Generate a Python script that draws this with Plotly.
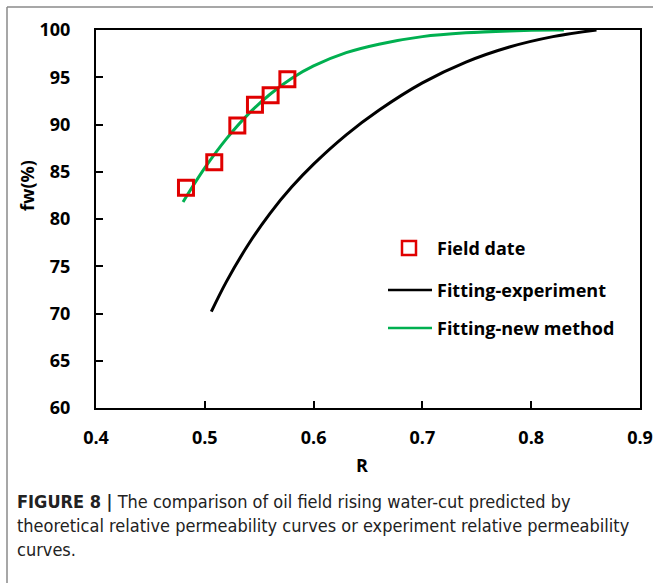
import plotly.graph_objects as go

# Field observations
field_r = [0.4827, 0.5087, 0.5299, 0.5461, 0.5605, 0.5759]
field_fw = [83.3, 86.0, 89.9, 92.1, 93.1, 94.8]

# Fitted curve from experimental relative permeability
exp_r = [0.506, 0.52, 0.54, 0.56, 0.58, 0.60, 0.63, 0.66, 0.70, 0.74, 0.78, 0.82, 0.86]
exp_fw = [70.2, 73.4, 77.3, 80.6, 83.4, 85.8, 88.9, 91.5, 94.4, 96.6, 98.2, 99.3, 100.0]

# Fitted curve from the new method
new_r = [0.480, 0.50, 0.52, 0.54, 0.56, 0.58, 0.60, 0.63, 0.66, 0.70, 0.74, 0.78, 0.82, 0.83]
new_fw = [81.8, 85.4, 88.5, 91.1, 93.2, 94.9, 96.2, 97.6, 98.5, 99.3, 99.7, 99.9, 100.0, 100.0]

x_ticks = [0.4, 0.5, 0.6, 0.7, 0.8, 0.9]
y_ticks = [60, 65, 70, 75, 80, 85, 90, 95, 100]

legend_labels = ["Field date", "Fitting-experiment", "Fitting-new method"]
caption = [
    "<b>FIGURE 8 |</b> The comparison of oil field rising water-cut predicted by",
    "theoretical relative permeability curves or experiment relative permeability",
    "curves.",
]

W, H = 653, 583
L, R, T, B = 96, 640, 30, 408
GREEN = "#00B050"
RED = "#E00000"
FONT = "Open Sans"


def px(x):
    return (x - L) / (R - L)


def py(y):
    return (B - y) / (B - T)


fig = go.Figure()
fig.add_trace(go.Scatter(x=exp_r, y=exp_fw, mode="lines", line=dict(color="black", width=3, shape="spline"),
                         showlegend=False))
fig.add_trace(go.Scatter(x=new_r, y=new_fw, mode="lines", line=dict(color=GREEN, width=3, shape="spline"),
                         showlegend=False))
fig.add_trace(go.Scatter(x=field_r, y=field_fw, mode="markers",
                         marker=dict(symbol="square-open", size=15, color=RED, line=dict(width=3, color=RED)),
                         showlegend=False))

shapes = []
annotations = []

# outer figure frame (top and left edges)
shapes.append(dict(type="line", xref="paper", yref="paper", x0=px(7), x1=px(W), y0=py(7), y1=py(7),
                   line=dict(color="#8a8a8a", width=1.5)))
shapes.append(dict(type="line", xref="paper", yref="paper", x0=px(7), x1=px(7), y0=py(7), y1=py(H),
                   line=dict(color="#8a8a8a", width=1.5)))

# legend
leg_y = [248, 290, 328]
shapes.append(dict(type="rect", xref="paper", yref="paper", x0=px(402), x1=px(416), y0=py(241), y1=py(255),
                   line=dict(color=RED, width=2.5)))
shapes.append(dict(type="line", xref="paper", yref="paper", x0=px(388), x1=px(432), y0=py(leg_y[1]),
                   y1=py(leg_y[1]), line=dict(color="black", width=2.5)))
shapes.append(dict(type="line", xref="paper", yref="paper", x0=px(388), x1=px(432), y0=py(leg_y[2]),
                   y1=py(leg_y[2]), line=dict(color=GREEN, width=2.5)))
for lab, yy in zip(legend_labels, leg_y):
    annotations.append(dict(text="<b>%s</b>" % lab, xref="paper", yref="paper", x=px(435), y=py(yy),
                            xanchor="left", yanchor="middle", showarrow=False,
                            font=dict(family=FONT, size=18, color="black")))

# axis titles
annotations.append(dict(text="<b>fw(%)</b>", xref="paper", yref="paper", x=px(27), y=py(186), textangle=-90,
                        xanchor="center", yanchor="middle", showarrow=False,
                        font=dict(family=FONT, size=18, color="black")))
annotations.append(dict(text="<b>R</b>", xref="paper", yref="paper", x=px(362), y=py(465),
                        xanchor="center", yanchor="middle", showarrow=False,
                        font=dict(family=FONT, size=18, color="black")))

# caption
for i, line in enumerate(caption):
    annotations.append(dict(text=line, xref="paper", yref="paper", x=px(15), y=py(501 + 24 * i),
                            xanchor="left", yanchor="middle", showarrow=False, align="left",
                            font=dict(family="DejaVu Sans Condensed, sans-serif",
                                      size=18, color="#222222")))

fig.update_layout(
    width=W, height=H,
    margin=dict(l=L, r=W - R, t=T, b=H - B, autoexpand=False),
    paper_bgcolor="white", plot_bgcolor="white",
    shapes=shapes, annotations=annotations,
    showlegend=False,
    font=dict(family=FONT, color="black"),
)
fig.update_xaxes(range=[0.4, 0.9], tickvals=x_ticks, ticktext=["%.1f" % v for v in x_ticks],
                 showgrid=False, zeroline=False, showline=True, linecolor="black", linewidth=2, mirror=True,
                 ticks="inside", ticklen=7, tickwidth=1.5, tickcolor="black", automargin=False,
                 tickfont=dict(family=FONT, size=18, color="black", weight="bold"), ticklabelstandoff=12)
fig.update_yaxes(range=[60, 100], tickvals=y_ticks, automargin=False,
                 showgrid=False, zeroline=False, showline=True, linecolor="black", linewidth=2, mirror=True,
                 ticks="inside", ticklen=7, tickwidth=1.5, tickcolor="black",
                 tickfont=dict(family=FONT, size=18, color="black", weight="bold"), ticklabelstandoff=20)

fig.write_html("out.html")
